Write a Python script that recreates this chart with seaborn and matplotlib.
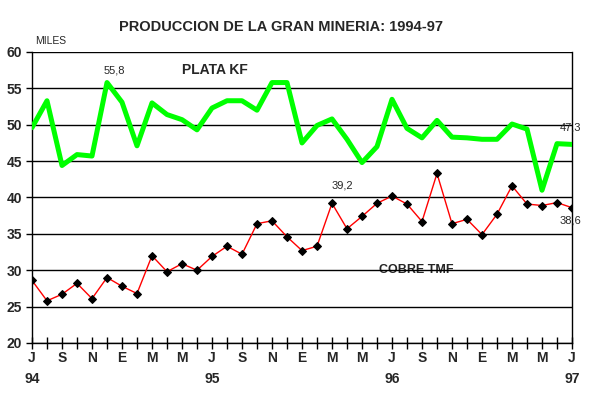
import numpy as np
import pandas as pd
import seaborn as sns
import matplotlib.pyplot as plt

# -------------------
# DATA (Jul-94 .. Jul-97, monthly)
# -------------------
plata = [49.6, 53.3, 44.4, 45.9, 45.7, 55.8, 53.1, 47.1, 53.0, 51.4,
         50.7, 49.3, 52.3, 53.3, 53.3, 52.0, 55.8, 55.8, 47.5, 49.9,
         50.8, 48.0, 44.8, 47.0, 53.5, 49.5, 48.2, 50.6, 48.3, 48.2,
         48.0, 48.0, 50.1, 49.4, 41.0, 47.4, 47.3]
cobre = [28.6, 25.8, 26.7, 28.2, 26.1, 29.0, 27.8, 26.8, 32.0, 29.8,
         30.9, 30.0, 31.9, 33.3, 32.2, 36.4, 36.8, 34.6, 32.7, 33.3,
         39.2, 35.7, 37.4, 39.2, 40.2, 39.1, 36.7, 43.3, 36.4, 37.0,
         34.9, 37.7, 41.6, 39.1, 38.9, 39.3, 38.6]
month_letters = ["J", "S", "N", "E", "M", "M", "J", "S", "N", "E",
                 "M", "M", "J", "S", "N", "E", "M", "M", "J"]
year_labels = {0: "94", 6: "95", 12: "96", 18: "97"}
annotations = [(5.5, 57.5, "55,8"), (20.7, 41.7, "39,2"),
               (35.9, 49.6, "47,3"), (35.9, 36.8, "38,6")]

df = pd.DataFrame({"mes": np.arange(len(plata)), "plata": plata, "cobre": cobre})

# -------------------
# STYLE
# -------------------
sns.set_style("ticks")
plt.rcParams["font.family"] = ["Liberation Sans", "DejaVu Sans"]

fig = plt.figure(figsize=(5.94, 3.95), dpi=100)
ax = fig.add_axes([32 / 594, 1 - 343 / 395, 540 / 594, 291 / 395])

# -------------------
# LINES
# -------------------
sns.lineplot(data=df, x="mes", y="plata", ax=ax, color="#00ff00",
             linewidth=3.6, zorder=4)
sns.lineplot(data=df, x="mes", y="cobre", ax=ax, color="#ff0000",
             linewidth=1.0, marker="D", markersize=4,
             markerfacecolor="black", markeredgecolor="black", zorder=5)

# -------------------
# AXES
# -------------------
ax.set_xlim(0, len(plata) - 1)
ax.set_ylim(20, 60)
ax.set_yticks(range(20, 61, 5))
ax.yaxis.grid(True, color="black", linewidth=1.0)
ax.set_axisbelow(False)
for gl in ax.get_ygridlines():
    gl.set_zorder(2)

xticks = list(range(len(plata)))
ax.set_xticks(xticks)
xlabels = []
for i in xticks:
    if i % 2 == 0:
        k = i // 2
        lab = month_letters[k]
        if k in year_labels:
            lab += "\n" + year_labels[k]
        xlabels.append(lab)
    else:
        xlabels.append("")
ax.set_xticklabels(xlabels, fontsize=10, fontweight="bold", va="top")
for t in ax.get_xticklabels():
    t.set_linespacing(1.65)
ax.tick_params(axis="x", which="major", direction="inout", length=8, width=1,
               color="black", pad=2, bottom=True)
ax.tick_params(axis="y", which="major", direction="out", length=4, width=1,
               color="black", labelsize=10, pad=3, left=True)
for t in ax.get_yticklabels():
    t.set_fontweight("bold")

for side in ["left", "bottom", "right"]:
    ax.spines[side].set_visible(True)
    ax.spines[side].set_color("black")
    ax.spines[side].set_linewidth(1.0)
ax.spines["top"].set_visible(False)

ax.set_xlabel("")
ax.set_ylabel("")

# -------------------
# TEXTS
# -------------------
fig.text(281 / 594, 1 - 27 / 395, "PRODUCCION DE LA GRAN MINERIA: 1994-97",
         ha="center", va="center", fontsize=10.5, fontweight="bold")
fig.text(35 / 594, 1 - 41 / 395, "MILES", ha="left", va="center", fontsize=7.5)
ax.text(12.2, 57.5, "PLATA KF", ha="center", va="center",
        fontsize=10, fontweight="bold")
ax.text(25.6, 30.0, "COBRE TMF", ha="center", va="center",
        fontsize=9, fontweight="bold", zorder=1)
for x, y, s in annotations:
    ax.text(x, y, s, ha="center", va="center", fontsize=8, zorder=6)

fig.savefig("out.png", dpi=100)
